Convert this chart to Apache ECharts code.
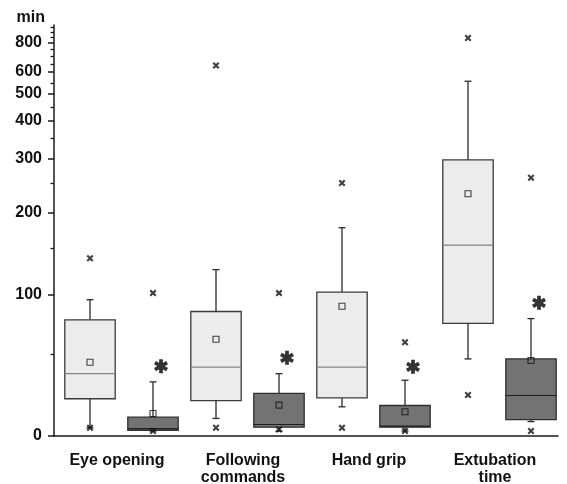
<!DOCTYPE html>
<html>
<head>
<meta charset="utf-8">
<script src="https://cdn.jsdelivr.net/npm/echarts@6/dist/echarts.min.js"></script>
<style>
  html, body { margin: 0; padding: 0; background: #fff; }
  #chart { width: 567px; height: 484px; }
</style>
</head>
<body>
<div id="chart"></div>
<script>
var categories = ['Eye opening', 'Following\ncommands', 'Hand grip', 'Extubation\ntime'];

// [min, Q1, median, Q3, max] in minutes
var lightBox = [
    [5, 22.7, 38, 79, 96],
    [10.7, 21.6, 42, 86, 127],
    [17.8, 23.3, 42, 103, 179],
    [47, 76, 154, 298, 558]
];
var darkBox = [
    [3, 3.5, 4.5, 11.5, 33],
    [3, 5.4, 7, 26, 38],
    [3, 5.4, 6, 18.6, 34],
    [8.8, 10, 24.7, 47, 80]
];
var lightMean = [45, 62.5, 90.5, 232];
var darkMean = [13.7, 18.8, 14.8, 46];
var lightOutLow = [5, 5, 5, 25];
var lightOutHigh = [139, 640, 250, 845];
var darkOutLow = [3, 4, 3, 3];
var darkOutHigh = [102, 102, 60, 261];
var starLevel = [42.6, 47.7, 42.2, 93.4];

var majorTicks = [0, 100, 200, 300, 400, 500, 600, 800];
var minorTicks = [50, 150, 250, 350, 450, 550, 650, 700, 750, 850, 900, 950];

// the compressed y scale of the original axis (minutes -> axis units)
var scaleMinutes = [0, 50, 100, 150, 200, 250, 300, 350, 400, 450, 500, 600, 700, 800, 900, 1000];
var scaleUnits = [0, 82, 141, 188, 223, 253, 277, 298, 315, 329, 342, 364, 380, 393, 404, 413];

function toScale(v) {
    for (var i = 1; i < scaleMinutes.length; i++) {
        if (v <= scaleMinutes[i]) {
            var a = scaleMinutes[i - 1], b = scaleMinutes[i];
            return scaleUnits[i - 1] + (v - a) / (b - a) * (scaleUnits[i] - scaleUnits[i - 1]);
        }
    }
    return scaleUnits[scaleUnits.length - 1];
}

var chartDom = document.getElementById('chart');
var myChart = echarts.init(chartDom);
var option;

var yMax = 411;
var slots = ['s0', 's1', 's2', 's3', 's4', 's5', 's6', 's7'];

function boxRenderer(fill, stroke, medianColor) {
    return function (params, api) {
        var x = api.value(0);
        var pMin = api.coord([x, api.value(1)]);
        var pQ1 = api.coord([x, api.value(2)]);
        var pMed = api.coord([x, api.value(3)]);
        var pQ3 = api.coord([x, api.value(4)]);
        var pMax = api.coord([x, api.value(5)]);
        var half = api.size([1, 0])[0] * 0.4;
        var cap = 3.5;
        var cx = pMed[0];
        var lineStyle = { stroke: '#2a2a2a', lineWidth: 1.3 };
        return {
            type: 'group',
            children: [
                { type: 'line', shape: { x1: cx, y1: pQ3[1], x2: cx, y2: pMax[1] }, style: lineStyle },
                { type: 'line', shape: { x1: cx - cap, y1: pMax[1], x2: cx + cap, y2: pMax[1] }, style: lineStyle },
                { type: 'line', shape: { x1: cx, y1: pQ1[1], x2: cx, y2: pMin[1] }, style: lineStyle },
                { type: 'line', shape: { x1: cx - cap, y1: pMin[1], x2: cx + cap, y2: pMin[1] }, style: lineStyle },
                {
                    type: 'rect',
                    shape: { x: cx - half, y: pQ3[1], width: half * 2, height: pQ1[1] - pQ3[1] },
                    style: { fill: fill, stroke: stroke, lineWidth: 1.3 }
                },
                { type: 'line', shape: { x1: cx - half, y1: pMed[1], x2: cx + half, y2: pMed[1] }, style: { stroke: medianColor, lineWidth: 1.2 } }
            ]
        };
    };
}

function boxData(list, shift) {
    return list.map(function (b, i) {
        return [2 * i + shift].concat(b.map(toScale));
    });
}
function pointData(list, shift) {
    return list.map(function (v, i) {
        return [2 * i + shift, toScale(v)];
    });
}

var crossPath = 'path://M0,1.3 L1.3,0 L6,4.7 L4.7,6 Z M4.7,0 L6,1.3 L1.3,6 L0,4.7 Z';
var starPath = 'path://M-1.6,-6 L1.6,-6 L1.6,6 L-1.6,6 Z M4.396,-4.386 L5.996,-1.614 L-4.396,4.386 L-5.996,1.614 Z M-5.996,-1.614 L-4.396,-4.386 L5.996,1.614 L4.396,4.386 Z';

var labelFont = {
    color: '#111',
    fontFamily: 'Liberation Sans',
    fontWeight: 'bold',
    fontSize: 16
};

option = {
    animation: false,
    grid: [
        { left: 54, right: 9, top: 25, bottom: 48, outerBoundsMode: 'none', containLabel: false },
        { left: 58.5, right: 4.5, top: 25, bottom: 48, outerBoundsMode: 'none', containLabel: false }
    ],
    xAxis: [
        {
            type: 'category',
            gridIndex: 0,
            data: categories,
            axisLine: { lineStyle: { color: '#1a1a1a', width: 1.5 } },
            axisTick: { length: 6, lineStyle: { color: '#1a1a1a', width: 1.5 } },
            axisLabel: Object.assign({ interval: 0, margin: 16, lineHeight: 17 }, labelFont),
            splitLine: { show: false }
        },
        { type: 'category', gridIndex: 1, data: slots, show: false }
    ],
    yAxis: [
        {
            type: 'value',
            gridIndex: 0,
            position: 'left',
            min: 0,
            max: yMax,
            name: 'min',
            nameLocation: 'end',
            nameGap: -1,
            nameTextStyle: Object.assign({
                align: 'right',
                verticalAlign: 'bottom',
                padding: [0, 9, 0, 0]
            }, labelFont),
            axisLine: { show: true, lineStyle: { color: '#1a1a1a', width: 1.5 } },
            axisTick: {
                show: true,
                length: 6,
                customValues: majorTicks.map(toScale),
                lineStyle: { color: '#1a1a1a', width: 1.5 }
            },
            axisLabel: Object.assign({
                customValues: majorTicks.map(toScale),
                margin: 12,
                formatter: function (v) {
                    var best = majorTicks[0];
                    majorTicks.forEach(function (m) {
                        if (Math.abs(toScale(m) - v) < Math.abs(toScale(best) - v)) best = m;
                    });
                    return String(best);
                }
            }, labelFont),
            splitLine: { show: false }
        },
        {
            type: 'value',
            gridIndex: 0,
            position: 'left',
            offset: 0,
            min: 0,
            max: yMax,
            axisLine: { show: false },
            axisTick: {
                show: true,
                length: 3.5,
                customValues: minorTicks.map(toScale),
                lineStyle: { color: '#1a1a1a', width: 1.3 }
            },
            axisLabel: { show: false },
            splitLine: { show: false }
        },
        { type: 'value', gridIndex: 1, min: 0, max: yMax, show: false }
    ],
    series: [
        {
            type: 'custom',
            name: 'light',
            xAxisIndex: 1,
            yAxisIndex: 2,
            renderItem: boxRenderer('#ebeceb', '#3a3a3a', '#858585'),
            encode: { x: 0, y: [1, 2, 3, 4, 5] },
            data: boxData(lightBox, 0),
            z: 2
        },
        {
            type: 'custom',
            name: 'dark',
            xAxisIndex: 1,
            yAxisIndex: 2,
            renderItem: boxRenderer('#737373', '#2e2e2e', '#1e1e1e'),
            encode: { x: 0, y: [1, 2, 3, 4, 5] },
            data: boxData(darkBox, 1),
            z: 2
        },
        {
            type: 'scatter',
            xAxisIndex: 1,
            yAxisIndex: 2,
            symbol: 'rect',
            symbolSize: 6,
            itemStyle: { color: 'rgba(0,0,0,0)', borderColor: '#111', borderWidth: 1.1 },
            data: pointData(lightMean, 0).concat(pointData(darkMean, 1)),
            z: 5
        },
        {
            type: 'scatter',
            xAxisIndex: 1,
            yAxisIndex: 2,
            symbol: crossPath,
            symbolSize: 7,
            itemStyle: { color: '#111' },
            data: pointData(lightOutLow, 0).concat(pointData(lightOutHigh, 0),
                pointData(darkOutLow, 1), pointData(darkOutHigh, 1)),
            z: 5
        },
        {
            type: 'scatter',
            xAxisIndex: 1,
            yAxisIndex: 2,
            symbol: starPath,
            symbolSize: 14,
            symbolOffset: [8, 0],
            itemStyle: { color: '#000' },
            data: pointData(starLevel, 1),
            z: 5
        }
    ]
};

option && myChart.setOption(option);
</script>
</body>
</html>
